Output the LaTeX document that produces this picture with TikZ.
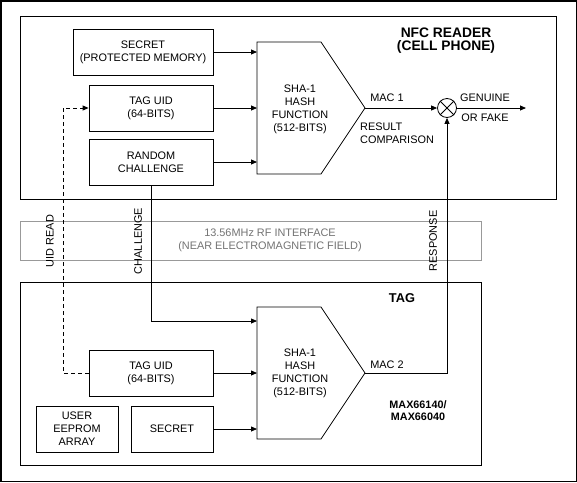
\documentclass[tikz,border=0pt]{standalone}
\usepackage{fontspec}
\setmainfont{Liberation Sans}
\usetikzlibrary{arrows.meta}
\begin{document}
\begin{tikzpicture}[x=1pt,y=-1pt,
  txt/.style={inner sep=0pt, align=center, font=\fontsize{10.9}{13}\selectfont},
  box/.style={txt, draw, line width=0.8pt},
  frame/.style={draw, line width=0.8pt},
  hashshape/.style={draw, line width=0.8pt, line join=miter},
  conn/.style={line width=0.8pt, -{Triangle[length=6pt,width=5pt]}},
  plain/.style={line width=0.8pt},
  dashconn/.style={line width=0.8pt, dash pattern=on 4pt off 3pt, -{Triangle[length=6pt,width=5pt]}},
  title/.style={inner sep=0pt, align=center, font=\fontsize{13.8}{13}\selectfont\bfseries},
  tagtitle/.style={inner sep=0pt, align=center, font=\fontsize{12.8}{13}\selectfont\bfseries},
  part/.style={inner sep=0pt, align=center, font=\fontsize{10.8}{12}\selectfont\bfseries},
  rflbl/.style={txt, text=black!55},
  vlbl/.style={txt, rotate=90}
]
\useasboundingbox (0,0) rectangle (577,482);
% outer frame
\draw[line width=1.5pt] (0.75,0.75) rectangle (576.25,481.25);
% reader / RF / tag panels
\draw[frame] (20.7,16) rectangle (556,199);
\draw[line width=0.8pt, draw=black!40] (20.7,221) rectangle (481,260);
\draw[frame] (20.7,282) rectangle (481,465);

% ---- reader ----
\node[box, minimum width=140pt, minimum height=46pt] (rsecret) at (143,52) {SECRET\\(PROTECTED MEMORY)};
\node[box, minimum width=124pt, minimum height=46pt] (ruid) at (151,108) {TAG UID\\(64-BITS)};
\node[box, minimum width=124pt, minimum height=46pt] (rchal) at (151,162) {RANDOM\\CHALLENGE};
\draw[hashshape] (257,42) -- (321,42) -- (365,108) -- (321,174) -- (257,174) -- cycle;
\coordinate (rhashL) at (257,108);
\coordinate (rhashO) at (365,108);
\node[txt] (rhash) at (300,109) {SHA-1\\HASH\\FUNCTION\\(512-BITS)};
\node[circle, draw, line width=0.8pt, minimum size=19pt, inner sep=0pt] (cmp) at (447,108) {};
\draw[plain] (cmp.north west) -- (cmp.south east) (cmp.north east) -- (cmp.south west);
\coordinate (out) at (526,108);
\node[txt] (mac1) at (387,98) {MAC 1};
\node[txt, anchor=west, align=left] (rescmp) at (360,133.5) {RESULT\\COMPARISON};
\node[txt] (gen) at (485,98) {GENUINE};
\node[txt] (fake) at (485,118) {OR FAKE};
\node[title] (nfc) at (446,40.5) {NFC READER\\(CELL PHONE)};

\draw[conn] (rsecret.east) -- (rsecret.east -| rhashL);
\draw[conn] (ruid.east) -- (rhashL);
\draw[conn] (rchal.east) -- (rchal.east -| rhashL);
\draw[conn] (rhashO) -- (cmp.west);
\draw[conn] (cmp.east) -- (out);

% ---- RF interface ----
\node[rflbl] (rf) at (270,240.5) {13.56MHz RF INTERFACE\\(NEAR ELECTROMAGNETIC FIELD)};
\node[vlbl] (uidread) at (50,241) {UID READ};
\node[vlbl] (chlbl) at (138,241) {CHALLENGE};
\node[vlbl] (resplbl) at (433,241) {RESPONSE};

% ---- tag ----
\node[box, minimum width=124pt, minimum height=46pt] (tuid) at (151,373) {TAG UID\\(64-BITS)};
\node[box, minimum width=82pt, minimum height=46pt] (eeprom) at (77,429) {USER\\EEPROM\\ARRAY};
\node[box, minimum width=82pt, minimum height=46pt] (tsecret) at (172,429) {SECRET};
\draw[hashshape] (257,307) -- (321,307) -- (365,373) -- (321,439) -- (257,439) -- cycle;
\coordinate (thashL) at (257,373);
\coordinate (thashO) at (365,373);
\node[txt] (thash) at (300,373) {SHA-1\\HASH\\FUNCTION\\(512-BITS)};
\node[txt] (mac2) at (387,365) {MAC 2};
\node[tagtitle] (tag) at (402,298) {TAG};
\node[part] (maxp) at (418,411) {MAX66140/\\MAX66040};
\coordinate (chin) at (257,321);
\coordinate (respc) at (447,373);
\coordinate (dashc) at (63,373);

\draw[conn] (tuid.east) -- (thashL);
\draw[conn] (tsecret.east) -- (tsecret.east -| thashL);
\draw[conn] (rchal.south) |- (chin);
\draw[conn] (thashO) -- (respc) -- (cmp.south);
\draw[dashconn] (tuid.west) -- (dashc) |- (ruid.west);
\end{tikzpicture}
\end{document}
